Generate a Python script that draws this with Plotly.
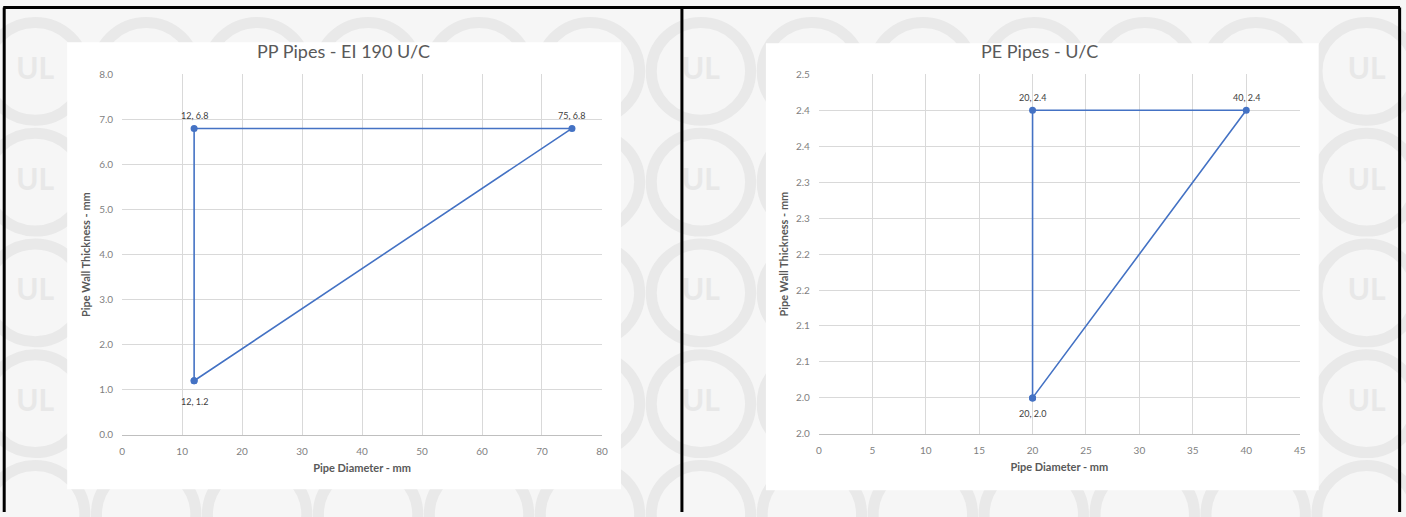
import plotly.graph_objects as go

# ---------------- data ----------------
pp_diameter = [12, 12, 75, 12]
pp_thickness = [1.2, 6.8, 6.8, 1.2]
pp_labels = ["12, 1.2", "12, 6.8", "75, 6.8"]

pe_diameter = [20, 20, 40, 20]
pe_thickness = [2.05, 2.45, 2.45, 2.05]
pe_labels = ["20, 2.0", "20, 2.4", "40, 2.4"]

pp_title = "PP Pipes - EI 190 U/C"
pe_title = "PE Pipes - U/C"
x_title = "Pipe Diameter - mm"
y_title = "Pipe Wall Thickness - mm"

pe_yticks = [2.0, 2.05, 2.1, 2.15, 2.2, 2.25, 2.3, 2.35, 2.4, 2.45, 2.5]
pe_yticktext = ["2.0", "2.0", "2.1", "2.1", "2.2", "2.2", "2.3", "2.3", "2.4", "2.4", "2.5"]

# ---------------- style ----------------
W, H = 1406, 517
FONT = "Lato, 'Open Sans', Arial, sans-serif"
BLUE = "#4472C4"
GRID = "#d9d9d9"
TICK = "#7f7f7f"
TITLE = "#595959"
LABEL = "#404040"
BG = "#f6f6f6"

# mapping from target-picture pixels to figure pixels (compensates capture scaling)
SX, OX, SY, OY = 0.994, 2.8, 0.972, 7.1


def fx(x):
    return (x - OX) / SX


def fy(y):
    return (y - OY) / SY


def px(x):
    return min(max(fx(x) / W, 0), 1)


def py(y):
    return min(max(1 - fy(y) / H, 0), 1)


fig = go.Figure()
for xs, ys, xa, ya in [(pp_diameter, pp_thickness, "x", "y"),
                       (pe_diameter, pe_thickness, "x2", "y2")]:
    fig.add_trace(go.Scatter(
        x=xs, y=ys, mode="lines+markers",
        line=dict(color=BLUE, width=1.6), marker=dict(color=BLUE, size=7),
        xaxis=xa, yaxis=ya, showlegend=False, cliponaxis=False, hoverinfo="x+y"))

common_x = dict(showgrid=True, gridcolor=GRID, gridwidth=1, zeroline=False,
                showline=True, linecolor="#bfbfbf", linewidth=1, ticks="",
                tickfont=dict(family=FONT, size=10, color=TICK),
                ticklabelstandoff=7, fixedrange=True)
common_y = dict(showgrid=True, gridcolor=GRID, gridwidth=1, zeroline=False,
                showline=False, ticks="",
                tickfont=dict(family=FONT, size=10, color=TICK),
                ticklabelstandoff=8, fixedrange=True)
axis_title_font = dict(family=FONT, size=11, color=TITLE, weight="bold")

fig.update_layout(
    width=W, height=H,
    margin=dict(l=0, r=0, t=0, b=0),
    paper_bgcolor=BG,
    plot_bgcolor="rgba(0,0,0,0)",
    xaxis=dict(common_x, domain=[px(122), px(602)], range=[0, 80], dtick=10,
               anchor="y", title=dict(text=x_title, font=axis_title_font, standoff=8)),
    yaxis=dict(common_y, domain=[py(433), py(75)], range=[0, 8], dtick=1,
               tickformat=".1f", anchor="x",
               title=dict(text=y_title, font=axis_title_font, standoff=6)),
    xaxis2=dict(common_x, domain=[px(819), px(1300)], range=[0, 45], dtick=5,
                anchor="y2", title=dict(text=x_title, font=axis_title_font, standoff=8)),
    yaxis2=dict(common_y, domain=[py(432), py(75)], range=[2.0, 2.5],
                tickvals=pe_yticks, ticktext=pe_yticktext, anchor="x2",
                title=dict(text=y_title, font=axis_title_font, standoff=5)),
    # full-page overlay axes for the watermark letters
    xaxis3=dict(domain=[0, 1], range=[0, W], visible=False, fixedrange=True, anchor="y3"),
    yaxis3=dict(domain=[0, 1], range=[H, 0], visible=False, fixedrange=True, anchor="x3"),
)

annotations = []
# data labels
for xs, ys, labels, xa, ya, down in [(pp_diameter, pp_thickness, pp_labels, "x", "y", -21),
                                     (pe_diameter, pe_thickness, pe_labels, "x2", "y2", -16)]:
    for i, lab in enumerate(labels):
        annotations.append(dict(x=xs[i], y=ys[i], xref=xa, yref=ya, text=lab,
                                showarrow=False, yshift=down if i == 0 else 13,
                                font=dict(family=FONT, size=9, color=LABEL)))

# ---------------- watermark background ----------------
shapes = []
boxes = [(67, 43, 621, 487), (766, 44, 1319, 488)]
ring_r = 50
ul_x, ul_y = [], []
for cy in [72, 182, 292, 402, 512]:
    for k in range(13):
        cx = 35 + 111 * k
        shapes.append(dict(type="circle", xref="paper", yref="paper", layer="below",
                           x0=(fx(cx) - ring_r) / W, x1=(fx(cx) + ring_r) / W,
                           y0=1 - (fy(cy) + ring_r) / H, y1=1 - (fy(cy) - ring_r) / H,
                           line=dict(color="#e9e9e9", width=11)))
        hit = any(b[0] - 22 < cx < b[2] + 22 and b[1] - 18 < cy < b[3] + 18 for b in boxes)
        if not hit and cy < 480:
            ul_x.append(fx(cx))
            ul_y.append(fy(cy))

fig.add_trace(go.Scatter(x=ul_x, y=ul_y, mode="text", text=["<b>UL</b>"] * len(ul_x),
                         textfont=dict(family=FONT, size=30, color="#e8e8e8"),
                         xaxis="x3", yaxis="y3", showlegend=False, hoverinfo="skip",
                         cliponaxis=True))

# white chart areas
for (x0, y0, x1, y1) in boxes:
    shapes.append(dict(type="rect", xref="paper", yref="paper", layer="below",
                       x0=px(x0), x1=px(x1), y0=py(y1), y1=py(y0),
                       fillcolor="white", line=dict(width=0)))

# black frame lines
top = 1 - 1.5 / H
for (x0, x1, y0, y1) in [(px(3), px(1401), top, top), (px(4), px(4), 0, top),
                         (px(682), px(682), 0, top), (px(1400), px(1400), 0, top)]:
    shapes.append(dict(type="line", xref="paper", yref="paper", layer="above",
                       x0=x0, x1=x1, y0=y0, y1=y1,
                       line=dict(color="black", width=3)))

# chart titles
for text, cx in [(pp_title, 343), (pe_title, 1040)]:
    annotations.append(dict(x=px(cx), y=py(52), xref="paper", yref="paper",
                            xanchor="center", yanchor="middle",
                            text=text, showarrow=False,
                            font=dict(family=FONT, size=18, color=TITLE)))

fig.update_layout(shapes=shapes, annotations=annotations)
fig.write_html("out.html", config={"displayModeBar": False},
               post_script=("document.body.style.margin='0';"
                            "document.body.style.overflow='hidden';"
                            "document.documentElement.style.background='" + BG + "';"
                            "document.body.style.background='" + BG + "';"))
